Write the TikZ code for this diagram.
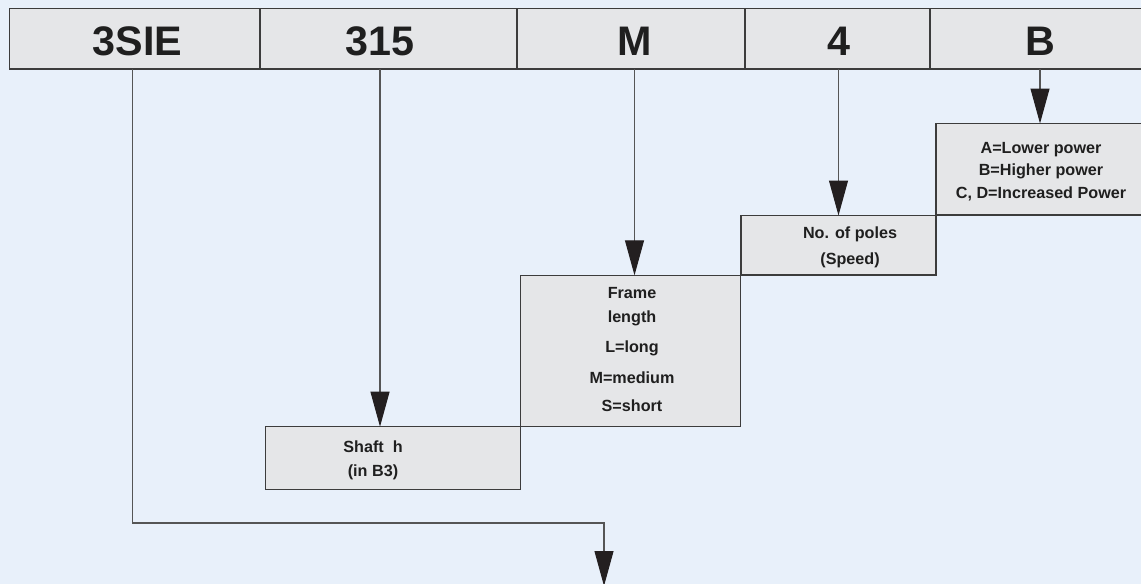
\documentclass[tikz,border=0pt]{standalone}
\usepackage{fontspec}
\setmainfont{Liberation Sans}
\usetikzlibrary{arrows.meta}
\definecolor{bgblue}{RGB}{232,240,250}
\definecolor{cellgray}{RGB}{229,230,232}
\definecolor{edgegray}{RGB}{60,60,60}
\definecolor{shaftgray}{RGB}{85,85,85}
\definecolor{tipblack}{RGB}{35,31,32}

\begin{document}
\begin{tikzpicture}[x=0.02cm,y=-0.02cm,
  cell/.style={rectangle,draw=edgegray,fill=cellgray,line width=0.8pt,anchor=north west,inner sep=0pt,outer sep=0pt,minimum height=1.21cm},
  infobox/.style={rectangle,draw=edgegray,fill=cellgray,line width=0.6pt,anchor=north west,inner sep=0pt,outer sep=0pt},
  big/.style={font=\fontsize{23.5}{28}\selectfont\bfseries,anchor=base,text=black!88},
  txt/.style={font=\fontsize{9.2}{12.9}\selectfont\bfseries,align=center,inner sep=0pt,text=black!88},
  arr/.style={draw=shaftgray,line width=0.6pt,-{Triangle[length=0.7cm,width=0.38cm,color=tipblack]}},
]
% ---------------- canvas ----------------
\fill[bgblue] (0,0) rectangle (1141,584);
\useasboundingbox (0,0) rectangle (1141,584);

% ---------------- code bar (top) ----------------
\node[cell,minimum width=5.01cm] (c3sie) at (9.5,8.5) {};
\node[cell,minimum width=5.14cm] (c315) at (c3sie.north east) {};
\node[cell,minimum width=4.56cm] (cM) at (c315.north east) {};
\node[cell,minimum width=3.70cm] (c4) at (cM.north east) {};
\node[cell,minimum width=4.40cm] (cB) at (c4.north east) {};
\node[big] (l3sie) at (137.5,56) {3SIE};
\node[big] (l315) at (380,56) {315};
\node[big] (lM) at (634.5,56) {M};
\node[big] (l4) at (838.5,56) {4};
\node[big] (lB) at (1040,56) {B};

% ---------------- explanation boxes (staircase) ----------------
\node[infobox,minimum width=4.28cm,minimum height=1.83cm] (powerbox) at (936,123.5) {};
\node[infobox,minimum width=3.90cm,minimum height=1.19cm] (polesbox) at (741,215.5) {};
\node[infobox,minimum width=4.40cm,minimum height=3.03cm] (framebox) at (520.7,275.3) {};
\node[infobox,minimum width=5.10cm,minimum height=1.25cm] (shaftbox) at (265.7,426.7) {};

\node[txt] (tpower) at (1041,171.5) {A=Lower power\\B=Higher power\\C, D=Increased Power};
\node[txt] (tpoles) at (850,247) {No. of poles\\[2pt](Speed)};
\node[txt] (tframe) at (632,349.5) {Frame\\[0.7pt]length\\[3.9pt]L=long\\[4.8pt]M=medium\\[2.8pt]S=short};
\node[txt] (tshaft) at (373,460.5) {Shaft\ \ h\\[0.7pt](in B3)};

% ---------------- arrows ----------------
\draw[arr] (c315.south -| l315) -- (shaftbox.north -| l315);
\draw[arr] (cM.south -| lM) -- (framebox.north -| lM);
\draw[arr] (c4.south -| l4) -- (polesbox.north -| l4);
\draw[arr] (cB.south -| lB) -- (powerbox.north -| lB);
\coordinate (turnA) at (132.3,523);
\coordinate (turnB) at (604,523);
\coordinate (outend) at (604,586);
\draw[arr] (c3sie.south -| turnA) -- (turnA) -- (turnB) -- (outend);
\end{tikzpicture}
\end{document}
